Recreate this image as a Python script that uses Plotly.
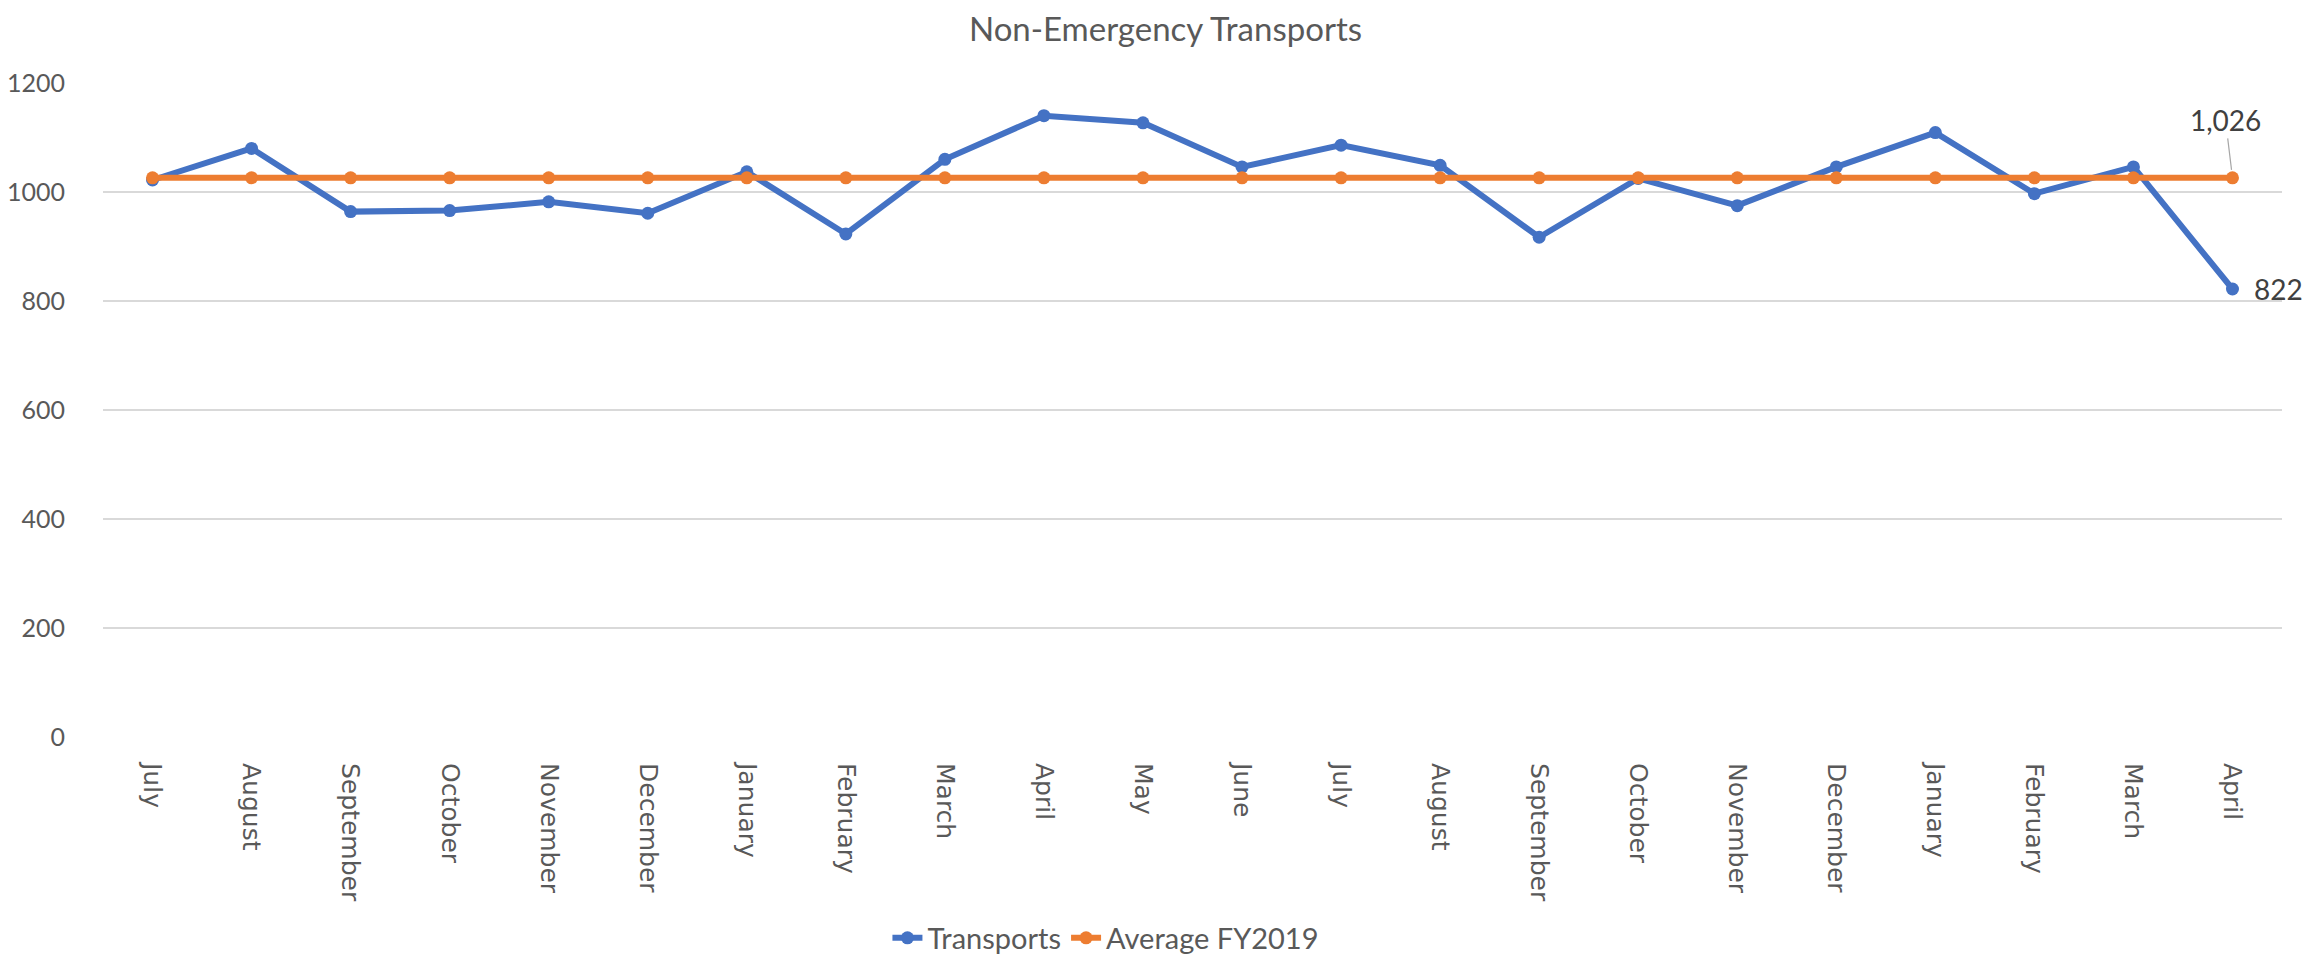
import plotly.graph_objects as go

months = ["July", "August", "September", "October", "November", "December",
          "January", "February", "March", "April", "May", "June",
          "July", "August", "September", "October", "November", "December",
          "January", "February", "March", "April"]
transports = [1022, 1080, 964, 966, 982, 961, 1037, 923, 1060, 1140, 1127, 1046,
              1086, 1049, 917, 1025, 975, 1046, 1109, 997, 1046, 822]
average_fy2019 = [1026] * 22
y_ticks = [0, 200, 400, 600, 800, 1000, 1200]

x = list(range(len(months)))
BLUE = "#4472C4"
ORANGE = "#ED7D31"
TXT = "#595959"

fig = go.Figure()
fig.add_trace(go.Scatter(
    x=x, y=transports, name="Transports", mode="lines+markers",
    line=dict(color=BLUE, width=6), marker=dict(color=BLUE, size=13),
    cliponaxis=False,
))
fig.add_trace(go.Scatter(
    x=x, y=average_fy2019, name="Average FY2019", mode="lines+markers",
    line=dict(color=ORANGE, width=6), marker=dict(color=ORANGE, size=13),
    cliponaxis=False,
))

fig.add_annotation(
    x=x[-1], y=average_fy2019[-1], text=f"{average_fy2019[-1]:,}",
    showarrow=True, arrowhead=0, arrowwidth=1.2, arrowcolor="#A6A6A6",
    ax=-7, ay=-58, standoff=8,
    font=dict(family="Lato", size=28, color="#404040"),
)
fig.add_annotation(
    x=x[-1], y=transports[-1], text=f"{transports[-1]:,}",
    showarrow=False, xanchor="left", xshift=20,
    font=dict(family="Lato", size=28, color="#404040"),
)

# page body has an 8px margin, so the figure is offset by 8px
fig.update_layout(
    width=2315, height=953,
    margin=dict(l=95, r=41, t=75, b=224, autoexpand=False),
    paper_bgcolor="white", plot_bgcolor="white",
    title=dict(text="Non-Emergency Transports", x=0.5, xanchor="center",
               y=1 - 21 / 953, yanchor="middle",
               font=dict(family="Lato", size=33, color=TXT)),
    font=dict(family="Lato", color=TXT),
    showlegend=True,
    legend=dict(orientation="h", x=0.36, xanchor="left",
                y=-(930 - 729) / 654, yanchor="middle",
                font=dict(family="Lato", size=29, color=TXT)),
)
fig.update_xaxes(
    tickvals=x, ticktext=months, tickangle=90, range=[-0.5, len(x) - 0.5],
    showgrid=False, showline=False, zeroline=False, automargin=False,
    ticks="outside", ticklen=20, tickcolor="rgba(0,0,0,0)",
    tickfont=dict(family="DejaVu Sans", size=25, color=TXT),
)
fig.update_yaxes(
    range=[0, 1200], tickvals=y_ticks, showgrid=True, gridcolor="#D9D9D9", gridwidth=1.5,
    zeroline=False, showline=False, automargin=False,
    ticks="outside", ticklen=32, tickcolor="rgba(0,0,0,0)",
    tickfont=dict(family="Lato", size=25, color=TXT),
)

fig.write_html("out.html")
